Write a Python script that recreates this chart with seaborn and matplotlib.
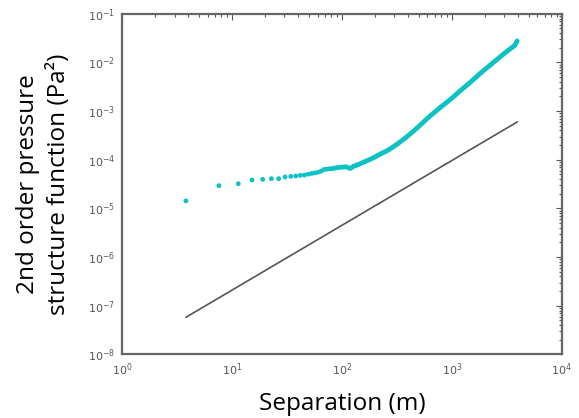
import numpy as np
import pandas as pd
import matplotlib
matplotlib.use("Agg")
import matplotlib.pyplot as plt
import seaborn as sns
from matplotlib.ticker import LogLocator

# separation (m) and 2nd order pressure structure function (Pa^2)
separation = [
    3.8, 7.6, 11.4, 15.2, 19.0, 22.8, 26.6, 30.4, 34.2, 38.0, 41.8, 45.6,
    49.4, 53.2, 57.0, 60.8, 64.6, 68.4, 72.2, 76.0, 79.8, 83.6, 87.4, 91.2,
    95.0, 98.8, 102.6, 106.4, 110.2, 114.0, 117.8, 121.6, 125.4, 129.2,
    133.4, 137.3, 141.3, 145.4, 149.6, 154.0, 158.5, 163.1, 167.9, 172.8,
    177.8, 183.0, 188.4, 193.9, 199.5, 205.4, 211.3, 217.5, 223.9, 230.4,
    237.1, 244.1, 251.2, 258.5, 266.1, 273.8, 281.8, 290.1, 298.5, 307.3,
    316.2, 325.5, 335.0, 344.7, 354.8, 365.2, 375.8, 386.8, 398.1, 409.7,
    421.7, 434.0, 446.7, 459.7, 473.2, 487.0, 501.2, 515.8, 530.9, 546.4,
    562.3, 578.8, 595.7, 613.1, 631.0, 649.4, 668.3, 687.8, 707.9, 728.6,
    749.9, 771.8, 794.3, 817.5, 841.4, 866.0, 891.3, 917.3, 944.1, 971.6,
    1000, 1029, 1059, 1090, 1122, 1155, 1189, 1223, 1259, 1296,
    1334, 1373, 1413, 1454, 1496, 1540, 1585, 1632, 1679, 1728,
    1778, 1831, 1884, 1939, 1995, 2054, 2113, 2176, 2239, 2305,
    2371, 2442, 2512, 2586, 2661, 2739, 2818, 2902, 2985, 3074,
    3162, 3256, 3350, 3449, 3548, 3631, 3715, 3780, 3846, 3890, 3936,
]
struct_fn = [
    1.43e-5, 2.94e-5, 3.23e-5, 3.85e-5, 3.96e-5, 4.09e-5, 4.09e-5, 4.43e-5,
    4.56e-5, 4.65e-5, 4.78e-5, 4.87e-5,
    5.06e-5, 5.24e-5, 5.38e-5, 5.56e-5, 5.83e-5, 6.32e-5, 6.41e-5, 6.50e-5,
    6.56e-5, 6.65e-5, 6.79e-5, 6.89e-5, 6.98e-5, 7.05e-5, 7.11e-5, 7.14e-5,
    7.16e-5, 6.89e-5, 6.65e-5, 6.79e-5, 7.21e-5, 7.46e-5,
    7.59e-5, 7.81e-5, 8.04e-5, 8.25e-5, 8.47e-5, 8.72e-5, 8.97e-5, 9.24e-5,
    9.51e-5, 9.78e-5,
    1.007e-4, 1.036e-4, 1.067e-4, 1.103e-4, 1.140e-4, 1.181e-4, 1.225e-4,
    1.268e-4, 1.312e-4, 1.355e-4,
    1.400e-4, 1.443e-4, 1.489e-4, 1.542e-4, 1.596e-4, 1.663e-4, 1.738e-4,
    1.816e-4, 1.897e-4, 1.986e-4,
    2.080e-4, 2.178e-4, 2.286e-4, 2.399e-4, 2.523e-4, 2.655e-4, 2.793e-4,
    2.938e-4, 3.097e-4, 3.273e-4,
    3.451e-4, 3.648e-4, 3.855e-4, 4.083e-4, 4.325e-4, 4.581e-4, 4.864e-4,
    5.152e-4, 5.483e-4, 5.821e-4,
    6.180e-4, 6.561e-4, 6.966e-4, 7.396e-4, 7.852e-4, 8.299e-4, 8.750e-4,
    9.247e-4, 9.750e-4, 1.030e-3,
    1.086e-3, 1.148e-3, 1.211e-3, 1.274e-3, 1.343e-3, 1.413e-3, 1.489e-3,
    1.567e-3, 1.652e-3, 1.742e-3,
    1.845e-3, 1.950e-3, 2.065e-3, 2.188e-3, 2.317e-3, 2.455e-3, 2.600e-3,
    2.742e-3, 2.897e-3, 3.062e-3,
    3.228e-3, 3.412e-3, 3.606e-3, 3.802e-3, 4.027e-3, 4.266e-3, 4.529e-3,
    4.797e-3, 5.093e-3, 5.395e-3,
    5.728e-3, 6.053e-3, 6.397e-3, 6.745e-3, 7.112e-3, 7.516e-3, 7.925e-3,
    8.375e-3, 8.831e-3, 9.311e-3,
    9.840e-3, 1.038e-2, 1.094e-2, 1.156e-2, 1.219e-2, 1.288e-2, 1.358e-2,
    1.432e-2, 1.510e-2, 1.589e-2,
    1.675e-2, 1.766e-2, 1.854e-2, 1.945e-2, 2.042e-2, 2.123e-2, 2.208e-2,
    2.291e-2, 2.512e-2, 2.630e-2, 2.754e-2,
]

# reference power law (slope 4/3)
ref_x = [3.8, 3950]
ref_y = [5.8e-8, 6.0e-4]

df = pd.DataFrame({"sep": separation, "sf": struct_fn})

sns.set_style("white")
plt.rcParams["font.family"] = ["DejaVu Sans"]

fig, ax = plt.subplots(figsize=(5.79, 4.18), dpi=100)
fig.subplots_adjust(left=0.211, right=0.970, top=0.967, bottom=0.152)

sns.scatterplot(data=df, x="sep", y="sf", ax=ax, color=(0.05, 0.76, 0.76),
                s=12, linewidth=0, edgecolor="none")
sns.lineplot(x=ref_x, y=ref_y, ax=ax, color="#555555", linewidth=1.2)

ax.set_xscale("log")
ax.set_yscale("log")
ax.set_xlim(1, 1e4)
ax.set_ylim(1e-8, 1e-1)

ax.xaxis.set_major_locator(LogLocator(base=10, numticks=10))
ax.yaxis.set_major_locator(LogLocator(base=10, numticks=10))
ax.xaxis.set_minor_locator(LogLocator(base=10, subs=np.arange(2, 10), numticks=20))
ax.yaxis.set_minor_locator(LogLocator(base=10, subs=np.arange(2, 10), numticks=20))

ax.tick_params(which="both", direction="in", top=True, right=True,
               colors="#555555", labelsize=8, width=0.8)
ax.tick_params(which="major", length=4, pad=5)
ax.tick_params(which="minor", length=2)
for sp in ax.spines.values():
    sp.set_color("#666666")
    sp.set_linewidth(1.6)

ax.set_xlabel("Separation (m)", fontsize=17.5, family=["Open Sans"],
              color="black", labelpad=10)
ax.set_ylabel("2nd order pressure\nstructure function (Pa²)", fontsize=17.5,
              family=["Open Sans"], color="black", labelpad=12, linespacing=1.4)

plt.savefig("out.png", dpi=100)
